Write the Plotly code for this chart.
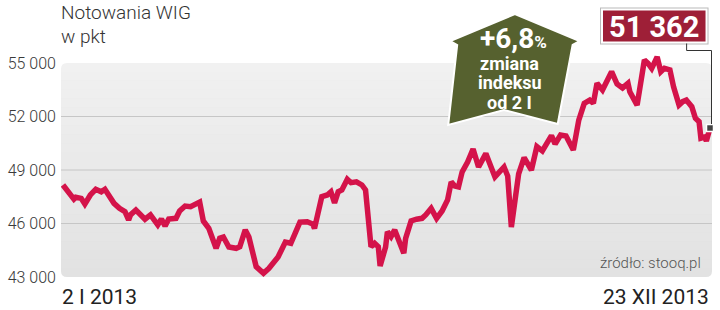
import plotly.graph_objects as go
import pandas as pd

# ---------------- data ----------------
start_date = "2013-01-02"
day_offsets = [
    0, 4, 6, 7, 10, 12, 15, 18, 21, 23, 26, 28, 31, 34, 36, 37, 40, 43, 45, 48,
    50, 52, 54, 56, 58, 62, 64, 67, 70, 73, 75, 77, 80, 84, 86, 88, 91, 95, 97, 100,
    102, 106, 107, 110, 113, 115, 118, 122, 125, 130, 134, 137, 138, 142, 145, 147, 149, 151, 153, 156,
    158, 161, 164, 166, 168, 169, 171, 173, 174, 177, 178, 180, 182, 185, 187, 188, 191, 194, 197, 199,
    202, 205, 208, 211, 213, 215, 217, 219, 222, 225, 228, 232, 237, 242, 244, 246, 250, 253, 257, 260,
    263, 268, 270, 273, 276, 280, 283, 286, 289, 291, 293, 296, 298, 301, 304, 307, 310, 311, 315, 319,
    321, 323, 326, 328, 330, 333, 335, 338, 340, 342, 345, 347, 349, 350, 352, 353, 355,
]
wig_values = [
    48160, 47600, 47370, 47470, 47410, 47090, 47600, 47920, 47780, 47920, 47490, 47130, 46850, 46660, 46200, 46480, 46760, 46380, 46240, 46480,
    46200, 45920, 46250, 45860, 46250, 46290, 46700, 46980, 46940, 47150, 47200, 46140, 45730, 44610, 45170, 45240, 44680, 44610, 44700, 45640,
    45240, 43580, 43490, 43210, 43490, 43770, 44120, 44960, 44890, 46080, 46100, 45970, 45730, 47500, 47600, 47780, 47150, 47780, 47880, 48480,
    48290, 48340, 48160, 47880, 46010, 44700, 44890, 44700, 43620, 44680, 45540, 45260, 45640, 44790, 44330, 45170, 46140, 46240, 46290, 46480,
    46850, 46290, 46700, 47320, 48330, 48100, 48050, 48890, 49450, 50180, 49170, 49920, 48610, 49170, 48660, 45800, 48780, 49700, 49000, 50310,
    50070, 50930, 50460, 50960, 50910, 50120, 51800, 52740, 52920, 52740, 53860, 53490, 53950, 54510, 53820, 53600, 53860, 53390, 52640, 55170,
    54980, 54700, 55340, 54510, 54700, 54610, 53670, 52640, 52830, 52920, 52550, 51900, 51710, 50790, 50850, 50630, 51362,
]
y_tick_values = [43000, 46000, 49000, 52000, 55000]
y_tick_labels = ["43 000", "46 000", "49 000", "52 000", "55 000"]
grid_values = [46000, 49000, 52000]
panel_bottom_value = 43000
panel_top_value = 55000
title_line1 = "Notowania WIG"
title_line2 = "w pkt"
first_date_label = "2 I 2013"
last_date_label = "23 XII 2013"
source_label = "źródło: stooq.pl"
change_pct = "+6,8"
change_lines = ["zmiana", "indeksu", "od 2 I"]
last_value_label = "51 362"

# ---------------- layout geometry ----------------
W, H = 720, 310
ML, MR, MT, MB = 58, 8, 50, 31
PW, PH = W - ML - MR, H - MT - MB
start = pd.Timestamp(start_date)
dates = [start + pd.Timedelta(days=d) for d in day_offsets]

def px(x):
    return (x - ML) / PW

def py(y):
    return (H - MB - y) / PH

px_per_unit = 214 / 12000.0
y_top = panel_top_value + (63 - MT) / px_per_unit
y_bot = panel_bottom_value - (H - MB - 277) / px_per_unit
days_per_px = day_offsets[-1] / 650.0
x_lo = start - pd.Timedelta(days=2 * days_per_px)
x_hi = dates[-1] + pd.Timedelta(days=2 * days_per_px)

LINE = "#d4134a"
shapes = []

# rounded grey panel
x0, x1 = 0.0, 1.0
y0, y1 = py(277), py(63)
rx, ry = 6 / PW, 6 / PH
panel_path = (
    f"M {x0+rx},{y0} L {x1-rx},{y0} Q {x1},{y0} {x1},{y0+ry} L {x1},{y1-ry} "
    f"Q {x1},{y1} {x1-rx},{y1} L {x0+rx},{y1} Q {x0},{y1} {x0},{y1-ry} "
    f"L {x0},{y0+ry} Q {x0},{y0} {x0+rx},{y0} Z"
)
shapes.append(dict(type="path", xref="paper", yref="paper", path=panel_path,
                   fillcolor="#e2e2e2", line=dict(width=0), layer="below"))
# gradient bands (white overlay, invisible outside the panel)
nb = 24
for i in range(nb):
    ya = 63 + i * (214 / nb)
    yb = ya + 214 / nb
    a = 0.5 * (1 - i / nb)
    shapes.append(dict(type="rect", xref="paper", yref="paper",
                       x0=0, x1=1, y0=py(yb), y1=py(ya),
                       fillcolor=f"rgba(255,255,255,{a:.3f})", line=dict(width=0), layer="below"))
for g in grid_values:
    shapes.append(dict(type="line", xref="paper", yref="y", x0=0, x1=1, y0=g, y1=g,
                       line=dict(color="#c6c6c6", width=1), layer="below"))

# arrow (house shape)
arrow_pts = [(514, 14), (579, 41), (572, 45), (557, 124), (503, 110),
             (447, 125), (456, 45), (449, 41)]
arrow_path = "M " + " L ".join(f"{px(x)},{py(y)}" for x, y in arrow_pts) + " Z"
shapes.append(dict(type="path", xref="paper", yref="paper", path=arrow_path,
                   fillcolor="#56612f", line=dict(color="white", width=2), layer="above"))

# value box
shapes.append(dict(type="rect", xref="paper", yref="paper",
                   x0=px(599.5), x1=px(708.5), y0=py(44.5), y1=py(7.5),
                   fillcolor="#b9b9b9", line=dict(width=0), layer="above"))
shapes.append(dict(type="rect", xref="paper", yref="paper",
                   x0=px(600.5), x1=px(707.5), y0=py(43.5), y1=py(8.5),
                   fillcolor="white", line=dict(width=0), layer="above"))
shapes.append(dict(type="rect", xref="paper", yref="paper",
                   x0=px(602.5), x1=px(705.5), y0=py(41.5), y1=py(10.5),
                   fillcolor="#9e1f37", line=dict(width=0), layer="above"))
# connector
conn = (f"M {px(686.5)},{py(43.5)} L {px(686.5)},{py(50.5)} "
        f"L {px(711.5)},{py(50.5)} L {px(711.5)},{py(124)}")
shapes.append(dict(type="path", xref="paper", yref="paper", path=conn,
                   line=dict(color="#333333", width=1), layer="above"))

fig = go.Figure()
fig.add_trace(go.Scatter(x=dates, y=wig_values, mode="lines",
                         line=dict(color=LINE, width=5.5), hoverinfo="skip"))
fig.add_trace(go.Scatter(x=[dates[-1]], y=[wig_values[-1]], mode="markers",
                         marker=dict(symbol="square", size=7, color="#444444",
                                     line=dict(color="white", width=1.5)),
                         cliponaxis=False, hoverinfo="skip"))

LIGHT = dict(family="Roboto Light, Roboto", weight=300)
ann = []
ann.append(dict(text=title_line1, xref="paper", yref="paper", x=px(56), y=py(12),
                xanchor="left", yanchor="middle", showarrow=False,
                font=dict(size=19, color="#333333", **LIGHT)))
ann.append(dict(text=title_line2, xref="paper", yref="paper", x=px(56), y=py(37),
                xanchor="left", yanchor="middle", showarrow=False,
                font=dict(size=19, color="#333333", **LIGHT)))
ann.append(dict(text=first_date_label, xref="paper", yref="paper", x=px(57), y=py(297),
                xanchor="left", yanchor="middle", showarrow=False,
                font=dict(size=21, color="#222222", family="Roboto")))
ann.append(dict(text=last_date_label, xref="paper", yref="paper", x=px(711), y=py(297),
                xanchor="right", yanchor="middle", showarrow=False,
                font=dict(size=21, color="#222222", family="Roboto")))
ann.append(dict(text=source_label, xref="paper", yref="paper", x=px(703), y=py(263),
                xanchor="right", yanchor="middle", showarrow=False,
                font=dict(size=15, color="#555555", **LIGHT)))
ann.append(dict(text=f"{change_pct}<span style='font-size:17px'>%</span>",
                xref="paper", yref="paper", x=px(513), y=py(38),
                xanchor="center", yanchor="middle", showarrow=False,
                font=dict(size=28, color="white", family="Roboto", weight=700)))
for i, t in enumerate(change_lines):
    ann.append(dict(text=t, xref="paper", yref="paper", x=px(509), y=py(63 + 19.5 * i),
                    xanchor="center", yanchor="middle", showarrow=False,
                    font=dict(size=18, color="white", family="Roboto", weight=700)))
ann.append(dict(text=last_value_label, xref="paper", yref="paper", x=px(654), y=py(27),
                xanchor="center", yanchor="middle", showarrow=False,
                font=dict(size=29, color="white", family="Roboto", weight=700)))

fig.update_layout(
    width=W, height=H, margin=dict(l=ML, r=MR, t=MT, b=MB, pad=0),
    paper_bgcolor="white", plot_bgcolor="rgba(0,0,0,0)",
    showlegend=False, shapes=shapes, annotations=ann,
    xaxis=dict(range=[x_lo, x_hi], visible=False, showgrid=False, zeroline=False),
    yaxis=dict(range=[y_bot, y_top], tickvals=y_tick_values, ticktext=y_tick_labels,
               showgrid=False, zeroline=False, showline=False, ticks="",
               ticklabelstandoff=4,
               tickfont=dict(size=16, color="#3a3a3a", family="Roboto Light, Roboto", weight=300)),
)
fig.write_html("out.html")
